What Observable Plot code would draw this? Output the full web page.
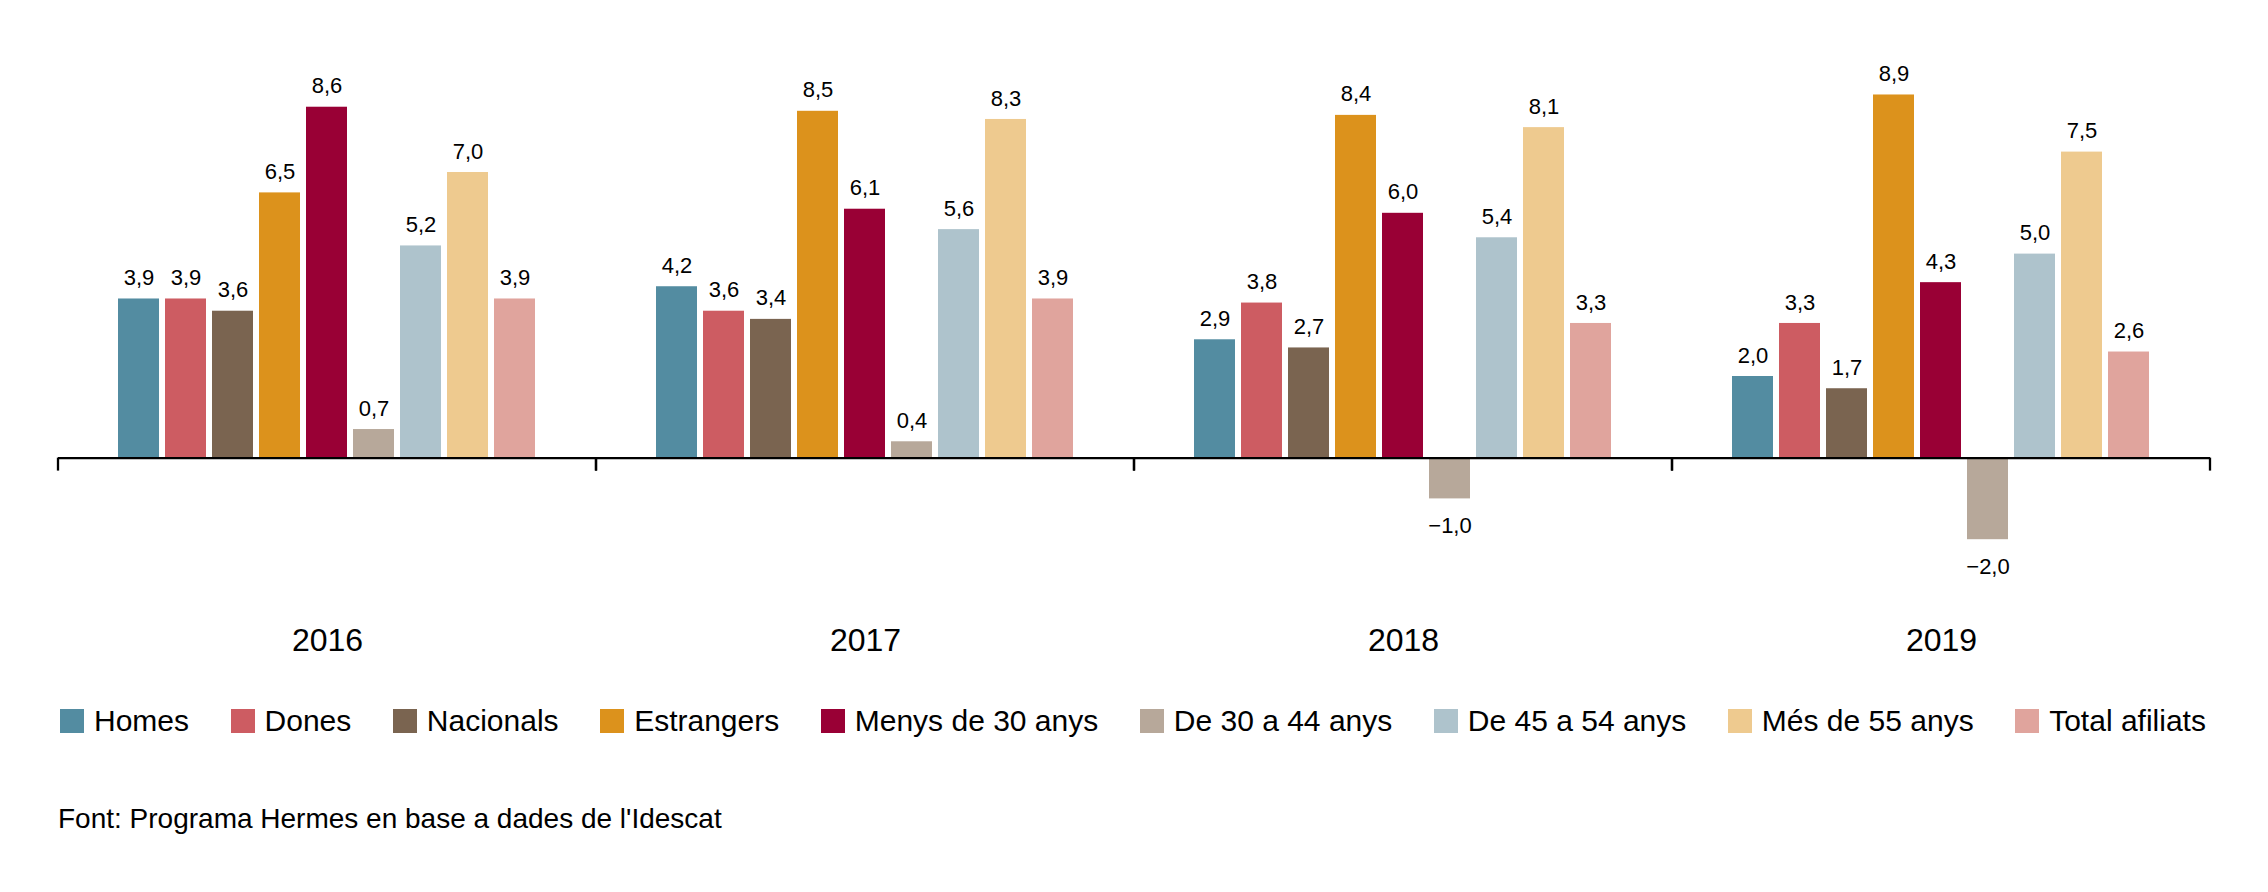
<!DOCTYPE html>
<html>
<head>
<meta charset="utf-8">
<script src="https://cdn.jsdelivr.net/npm/d3@7"></script>
<script src="https://cdn.jsdelivr.net/npm/@observablehq/plot@0.6"></script>
<style>
  html, body { margin: 0; padding: 0; background: #fff; }
  body { font-family: "Liberation Sans", Arial, Helvetica, sans-serif; color: #000; width: 2268px; }
  #legend { display: flex; justify-content: space-between; align-items: center; margin-left: 60px; width: 2146px; margin-top: 33px; height: 36px; line-height: 36px; font-size: 30px; }
  #legend .item { display: flex; align-items: center; white-space: nowrap; }
  #legend .sw { width: 24px; height: 24px; margin-right: 10px; display: inline-block; }
  #source { margin-left: 58px; margin-top: 63px; font-size: 28px; line-height: 34px; }
</style>
</head>
<body>
<div id="chart"></div>
<div id="legend"></div>
<div id="source">Font: Programa Hermes en base a dades de l'Idescat</div>
<script>
const years = ["2016", "2017", "2018", "2019"];
const series = ["Homes", "Dones", "Nacionals", "Estrangers", "Menys de 30 anys", "De 30 a 44 anys", "De 45 a 54 anys", "Més de 55 anys", "Total afiliats"];
const colors = ["#538ca1", "#cd5c62", "#7a6450", "#dc921c", "#990035", "#b7a89a", "#aec3cc", "#eeca8f", "#e0a49d"];

const homes      = [3.9, 4.2, 2.9, 2.0];
const dones      = [3.9, 3.6, 3.8, 3.3];
const nacionals  = [3.6, 3.4, 2.7, 1.7];
const estrangers = [6.5, 8.5, 8.4, 8.9];
const menys30    = [8.6, 6.1, 6.0, 4.3];
const de30a44    = [0.7, 0.4, -1.0, -2.0];
const de45a54    = [5.2, 5.6, 5.4, 5.0];
const mes55      = [7.0, 8.3, 8.1, 7.5];
const total      = [3.9, 3.9, 3.3, 2.6];

const valuesBySeries = [homes, dones, nacionals, estrangers, menys30, de30a44, de45a54, mes55, total];

const data = [];
years.forEach((year, j) => {
  series.forEach((s, i) => {
    data.push({year, series: s, value: valuesBySeries[i][j]});
  });
});

const fmt = v => (v < 0 ? "\u2212" : "") + Math.abs(v).toFixed(1).replace(".", ",");

const ticks = (index, scales, values, dimensions) => {
  const {marginLeft, marginRight, width} = dimensions;
  const y0 = scales.y(0);
  const g = d3.create("svg:g").attr("stroke", "#000").attr("stroke-width", 2.3);
  for (const x of [marginLeft, width - marginRight]) {
    g.append("line").attr("x1", x).attr("x2", x).attr("y1", y0).attr("y2", y0 + 13);
  }
  return g.node();
};

const chart = Plot.plot({
  width: 2268,
  height: 670,
  marginLeft: 58,
  marginRight: 58,
  marginTop: 70,
  marginBottom: 90,
  style: {fontFamily: '"Liberation Sans", Arial, Helvetica, sans-serif', background: "#fff", color: "#000"},
  fx: {domain: years, padding: 0, axis: null, label: null},
  x: {domain: series, paddingInner: 0.12, paddingOuter: 1.19, axis: null, label: null},
  y: {domain: [-3, 9.5], axis: null, label: null},
  color: {domain: series, range: colors},
  marks: [
    Plot.barY(data, {fx: "year", x: "series", y: "value", fill: "series"}),
    Plot.ruleY([0], {stroke: "#000", strokeWidth: 2.3}),
    ticks,
    Plot.text(data.filter(d => d.value >= 0), {fx: "year", x: "series", y: "value", text: d => fmt(d.value), lineAnchor: "middle", dy: -21, fontSize: 22, fill: "#000"}),
    Plot.text(data.filter(d => d.value < 0), {fx: "year", x: "series", y: "value", text: d => fmt(d.value), lineAnchor: "middle", dy: 27, fontSize: 22, fill: "#000"}),
    Plot.text(years, {fx: d => d, text: d => d, frameAnchor: "bottom", lineAnchor: "middle", dy: 60, fontSize: 32, fill: "#000"})
  ]
});
document.getElementById("chart").appendChild(chart);

const legend = document.getElementById("legend");
series.forEach((s, i) => {
  const item = document.createElement("span");
  item.className = "item";
  const sw = document.createElement("span");
  sw.className = "sw";
  sw.style.background = colors[i];
  const label = document.createElement("span");
  label.textContent = s;
  item.appendChild(sw);
  item.appendChild(label);
  legend.appendChild(item);
});
</script>
</body>
</html>
